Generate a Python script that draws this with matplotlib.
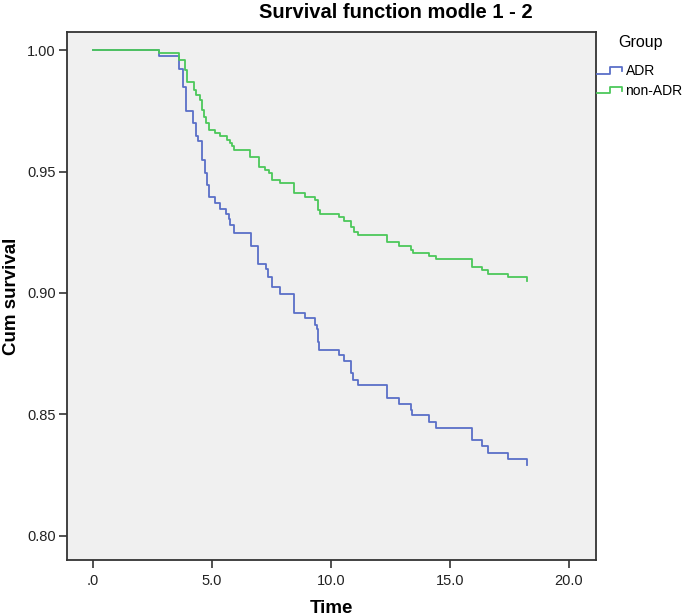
import numpy as np
import matplotlib
matplotlib.use("Agg")
import matplotlib.pyplot as plt
from matplotlib.lines import Line2D
from matplotlib.legend_handler import HandlerBase

plt.rcParams['font.family'] = ['Liberation Sans', 'DejaVu Sans']

# Kaplan-Meier steps (time, cum survival after the event)
adr_t = [0, 2.75, 3.62, 3.80, 3.92, 4.22, 4.34, 4.43, 4.58, 4.69, 4.78, 4.87,
         5.14, 5.35, 5.60, 5.70, 5.77, 5.91, 6.64, 6.92, 7.25, 7.34, 7.52, 7.84,
         8.43, 8.93, 9.35, 9.40, 9.44, 9.50, 10.33, 10.54, 10.85, 10.93, 11.13,
         12.34, 12.86, 13.35, 13.42, 14.12, 14.44, 15.94, 16.36, 16.62, 17.44, 18.26]
adr_s = [1.0, 0.9978, 0.9923, 0.9849, 0.9748, 0.9700, 0.9645, 0.9624, 0.9546, 0.9496,
         0.9446, 0.9397, 0.9372, 0.9345, 0.9326, 0.9304, 0.9280, 0.9249, 0.9194, 0.9119,
         0.9097, 0.9067, 0.9023, 0.8995, 0.8918, 0.8895, 0.8868, 0.8850, 0.8799, 0.8767,
         0.8744, 0.8720, 0.8671, 0.8643, 0.8619, 0.8569, 0.8544, 0.8517, 0.8496, 0.8468,
         0.8445, 0.8393, 0.8368, 0.8342, 0.8317, 0.8290]

non_t = [0, 2.75, 3.63, 3.87, 3.94, 4.25, 4.34, 4.48, 4.58, 4.68, 4.76, 4.86,
         5.14, 5.35, 5.63, 5.74, 5.84, 5.93, 6.60, 6.96, 7.24, 7.38, 7.52, 7.84,
         8.43, 8.93, 9.35, 9.44, 9.53, 10.33, 10.54, 10.85, 10.96, 11.15, 12.34,
         12.86, 13.35, 13.46, 14.12, 14.44, 15.94, 16.36, 16.62, 17.44, 18.26]
non_s = [1.0, 0.9988, 0.9959, 0.9917, 0.9868, 0.9838, 0.9817, 0.9796, 0.9755, 0.9725,
         0.9700, 0.9673, 0.9661, 0.9645, 0.9631, 0.9618, 0.9607, 0.9590, 0.9560, 0.9520,
         0.9505, 0.9494, 0.9466, 0.9452, 0.9411, 0.9395, 0.9381, 0.9342, 0.9326, 0.9312,
         0.9298, 0.9271, 0.9253, 0.9238, 0.9210, 0.9194, 0.9177, 0.9166, 0.9152, 0.9139,
         0.9108, 0.9095, 0.9078, 0.9064, 0.9050]

x_ticks = [0, 5, 10, 15, 20]
x_labels = ['.0', '5.0', '10.0', '15.0', '20.0']
y_ticks = [0.80, 0.85, 0.90, 0.95, 1.00]
y_labels = ['0.80', '0.85', '0.90', '0.95', '1.00']

blue = '#5a6fc8'
green = '#4cc85a'


class StepHandler(HandlerBase):
    def create_artists(self, legend, orig, xd, yd, w, h, fontsize, trans):
        xs = [xd, xd + w * 0.5, xd + w * 0.5, xd + w, xd + w]
        ys = [yd + h * 0.15, yd + h * 0.15, yd + h * 0.8, yd + h * 0.8, yd + h * 0.4]
        ln = Line2D(xs, ys, color=orig.get_color(), lw=orig.get_linewidth())
        ln.set_transform(trans)
        return [ln]


fig = plt.figure(figsize=(6.85, 6.16), dpi=100)
ax = fig.add_axes([67 / 685, 1 - 560 / 616, (596 - 67) / 685, (560 - 32) / 616])
ax.set_facecolor('#f0f0f0')

l1, = ax.step(adr_t, adr_s, where='post', color=blue, lw=1.3, label='ADR')
l2, = ax.step(non_t, non_s, where='post', color=green, lw=1.3, label='non-ADR')

ax.set_xlim(-1.1, 21.15)
ax.set_ylim(0.790, 1.0075)
ax.set_xticks(x_ticks)
ax.set_xticklabels(x_labels)
ax.set_yticks(y_ticks)
ax.set_yticklabels(y_labels)
ax.tick_params(direction='out', length=6, width=1.2, color='#333333',
               labelsize=10.5, labelcolor='#222222', pad=2)
ax.tick_params(axis='x', pad=4)
for sp in ax.spines.values():
    sp.set_color('#333333')
    sp.set_linewidth(1.3)

ax.set_xlabel('Time', fontsize=13.5, fontweight='bold', labelpad=9)
ax.set_ylabel('Cum survival', fontsize=13.5, fontweight='bold')
ax.yaxis.set_label_coords((20 - 67) / 529, 0.5)

fig.text(396 / 685, 1 - 13 / 616, 'Survival function modle 1 - 2', ha='center', va='center',
         fontsize=14.5, fontweight='bold')

fig.text(618 / 685, 1 - 43 / 616, 'Group', ha='left', va='center', fontsize=11.5)
leg = fig.legend(handles=[l1, l2], loc='upper left',
                 bbox_to_anchor=(597 / 685, 1 - 64 / 616), frameon=False,
                 fontsize=10, handlelength=1.8, handletextpad=0.25,
                 labelspacing=0.4, borderaxespad=0, borderpad=0,
                 handler_map={Line2D: StepHandler()})

fig.savefig('out.png', dpi=100)
